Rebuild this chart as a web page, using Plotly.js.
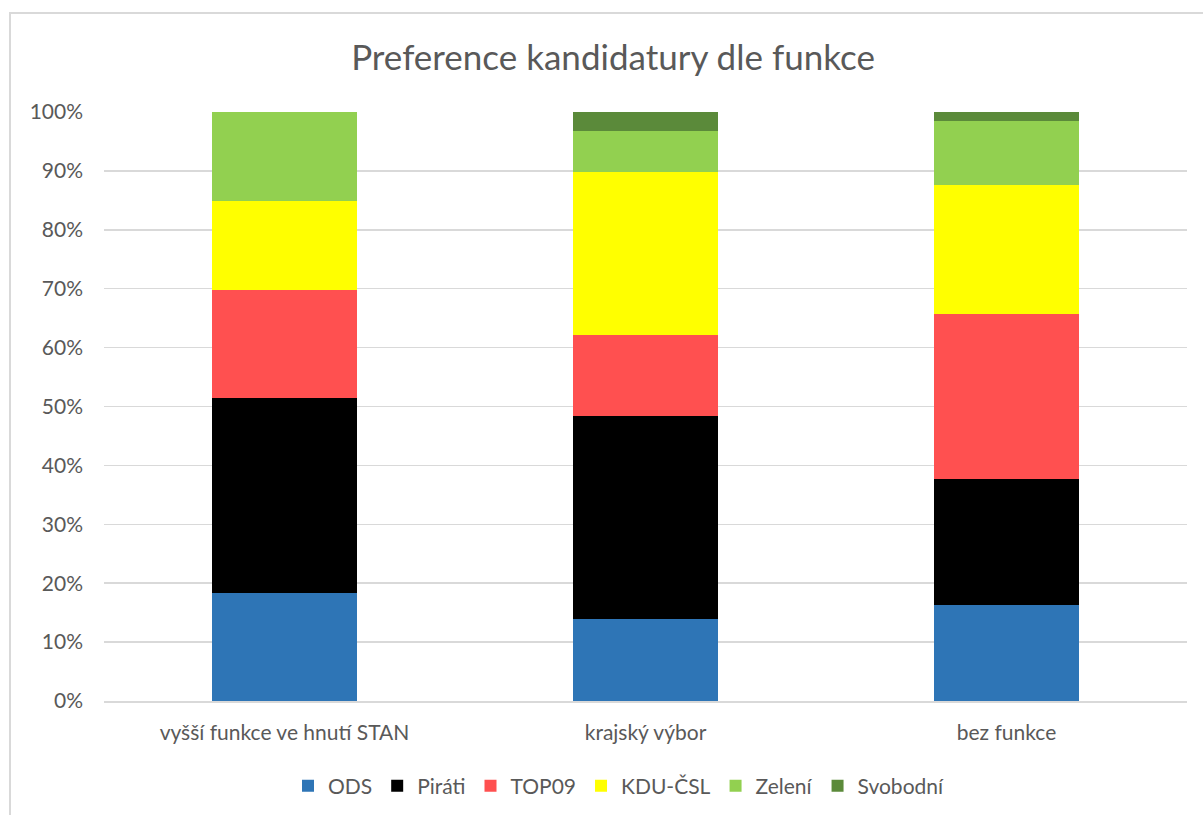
<!DOCTYPE html>
<html>
<head>
<meta charset="utf-8">
<script src="https://cdn.plot.ly/plotly-3.0.1.min.js"></script>
<style>
  html, body { margin: 0; padding: 0; background: #ffffff; }
  #chart { position: absolute; left: 0; top: 0; width: 1203px; height: 815px; }
  #frame { position: absolute; left: 9px; top: 12px; width: 1200px; height: 810px;
           border-left: 2px solid #d9d9d9; border-top: 2px solid #d9d9d9; pointer-events: none; }
</style>
</head>
<body>
<div id="chart"></div>
<div id="frame"></div>
<script>
const categories = ["vyšší funkce ve hnutí STAN", "krajský výbor", "bez funkce"];
const ODS       = [18.3, 13.9, 16.3];
const Pirati    = [33.1, 34.5, 21.4];
const TOP09     = [18.4, 13.7, 28.0];
const KDU_CSL   = [15.1, 27.7, 21.9];
const Zeleni    = [15.1, 6.9, 10.9];
const Svobodni  = [0.0, 3.3, 1.5];
const seriesNames = ["ODS", "Piráti", "TOP09", "KDU-ČSL", "Zelení", "Svobodní"];
const seriesValues = [ODS, Pirati, TOP09, KDU_CSL, Zeleni, Svobodni];
const colors = ["#2E75B6", "#000000", "#FF5050", "#FFFF00", "#92D050", "#5B8A3A"];
const yTicks = [0, 10, 20, 30, 40, 50, 60, 70, 80, 90, 100];
const yTickLabels = yTicks.map(v => v + "%");

const FONT = "Lato, 'Open Sans', sans-serif";

const traces = seriesNames.map((name, i) => ({
  type: "bar",
  name: name,
  x: categories,
  y: seriesValues[i],
  marker: { color: colors[i], line: { width: 0 } },
  hoverinfo: "x+y+name"
}));

const layout = {
  width: 1203,
  height: 815,
  barmode: "stack",
  bargap: 0.6,
  paper_bgcolor: "#ffffff",
  plot_bgcolor: "#ffffff",
  margin: { l: 104, r: 16, t: 112, b: 114, autoexpand: false },
  title: {
    text: "Preference kandidatury dle funkce",
    font: { family: FONT, size: 35, color: "#595959" },
    x: 613 / 1203, xanchor: "center", xref: "container",
    y: 1 - 58 / 815, yanchor: "middle", yref: "container"
  },
  xaxis: {
    type: "category",
    tickfont: { family: FONT, size: 21, color: "#595959" },
    showgrid: false,
    showline: true,
    linecolor: "#d9d9d9",
    linewidth: 1.5,
    ticks: "",
    ticklen: 0,
    ticklabelstandoff: 12
  },
  yaxis: {
    range: [0, 100],
    tickvals: yTicks,
    ticktext: yTickLabels,
    tickfont: { family: FONT, size: 21, color: "#595959" },
    showgrid: true,
    gridcolor: "#d9d9d9",
    gridwidth: 1.5,
    zeroline: false,
    showline: false,
    ticks: "",
    ticklen: 0,
    ticklabelstandoff: 20
  },
  legend: {
    orientation: "h",
    xref: "container", yref: "container",
    x: 619 / 1203, xanchor: "center",
    y: 1 - 786 / 815, yanchor: "middle",
    font: { family: FONT, size: 21, color: "#595959" },
    traceorder: "normal",
    itemwidth: 30
  },
  showlegend: true
};

Plotly.newPlot("chart", traces, layout, { displayModeBar: false, staticPlot: true });
</script>
</body>
</html>
